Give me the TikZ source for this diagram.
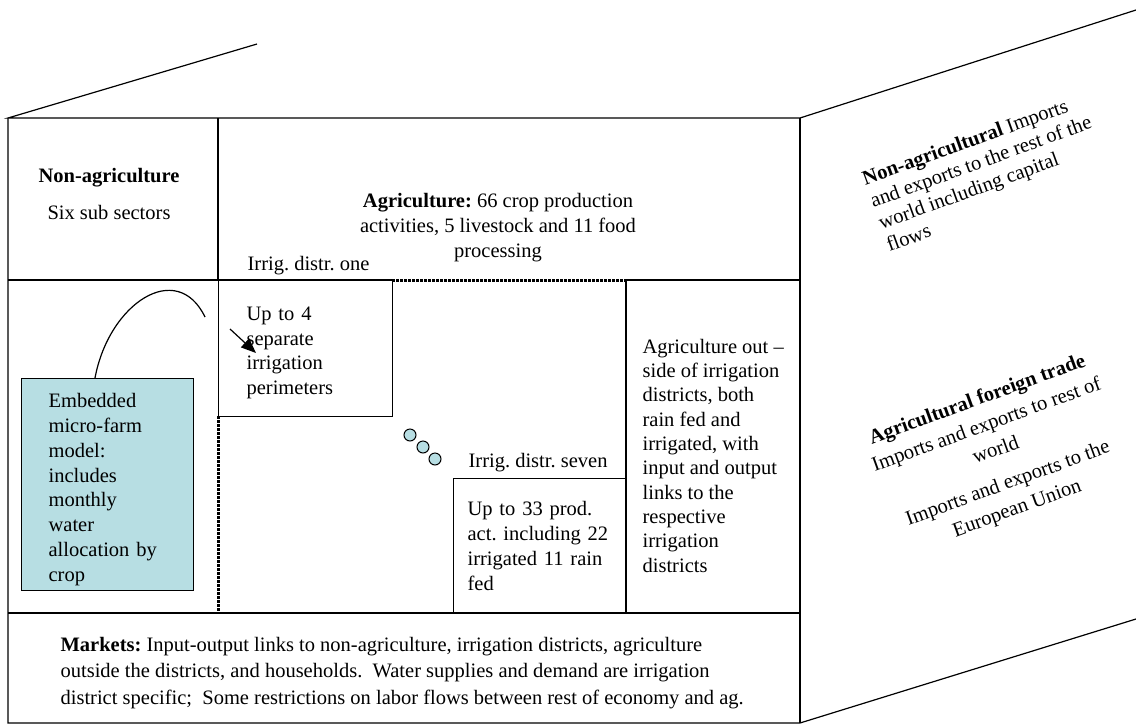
\documentclass[tikz,border=0pt]{standalone}
\usepackage{fontspec}
\setmainfont{Liberation Serif}
\usetikzlibrary{arrows.meta}
\definecolor{farmblue}{RGB}{183,222,227}

\begin{document}
\frenchspacing
\begin{tikzpicture}[x=1pt,y=-1pt,line width=1.2pt,
   every node/.style={font=\fontsize{20.5}{24.8}\selectfont,inner sep=0pt},
   box/.style={draw,align=left,anchor=north west},
   dotline/.style={line width=3pt,dash pattern=on 3pt off 1pt},
   ball/.style={draw,circle,fill=farmblue,line width=1pt,minimum size=12pt}]
\useasboundingbox (0,0) rectangle (1136,724);
% outer frame
\draw (257,44) -- (8,118) -- (800,118) -- (1136,10);
\draw (8,118) -- (8,723) -- (800,723) -- (1136,619);
\draw (800,118) -- (800,723);
% inner partitions
\draw (218,118) -- (218,280);
\draw (8,280) -- (392,280) (626,280) -- (800,280);
\draw (626,280) -- (626,613);
\draw (8,613) -- (800,613);
\draw[dotline] (392,280) -- (626,280);
\draw[dotline] (218,416) -- (218,613);
% boxes
\node[box,minimum width=174pt,minimum height=136pt,text width=118pt,text height=22pt] (one) at (218,280)
   {Up to 4\\separate\\irrigation\\perimeters};
\node[box,minimum width=173pt,minimum height=135pt,text width=145pt] (seven) at (453,478)
   {Up to 33 prod.\\act. including 22\\irrigated 11 rain\\fed};
\node[box,fill=farmblue,minimum width=172pt,minimum height=212pt,text width=118pt,text height=24pt] (farm) at (21,378)
   {Embedded\\micro-farm\\model:\\includes\\monthly\\water\\allocation by\\crop};
\node[anchor=base west] (onelbl) at (247,270) {Irrig. distr. one};
\node[anchor=base west] (sevenlbl) at (468,467) {Irrig. distr. seven};
% sector texts (base = last line)
\node[anchor=base,align=center] (nonag) at (109,219) {\textbf{Non-agriculture}\\[11.5pt]Six sub sectors};
\node[anchor=base,align=center] (ag) at (498,257)
   {\textbf{Agriculture:} 66 crop production\\activities, 5 livestock and 11 food\\processing};
\node[anchor=base west,align=left,font=\fontsize{20.5}{24.3}\selectfont] (outside) at (642,572)
   {Agriculture out --\\side of irrigation\\districts, both\\rain fed and\\irrigated, with\\input and output\\links to the\\respective\\irrigation\\districts};
\node[anchor=base west,align=left] (markets) at (60,704)
   {\textbf{Markets:} Input-output links to non-agriculture, irrigation districts, agriculture\\[1.5pt]
    outside the districts, and households.~ Water supplies and demand are irrigation\\[1.5pt]
    district specific;~ Some restrictions on labor flows between rest of economy and ag.};
% foreign trade
\node[anchor=base west,align=left,rotate=20,font=\fontsize{20.5}{23.5}\selectfont] (nonagtrade) at (889,252)
   {\textbf{Non-agricultural} Imports\\and exports to the rest of the\\world including capital\\flows};
\node[anchor=base,align=center,rotate=20,font=\fontsize{20.5}{27}\selectfont] (agtrade) at (1019,514)
   {\textbf{Agricultural foreign trade}\\Imports and exports to rest of\\world\\[8pt]Imports and exports to the\\European Union};
% link from micro-farm model
\coordinate (bend) at (205,317);
\coordinate (arrfrom) at (230,329);
\coordinate (arrto) at (256,353);
\draw ([xshift=74pt]farm.north west) .. controls +(14,-75) and +(-28,-58) .. (bend);
\draw[-{Triangle[length=15pt,width=12pt]}] (arrfrom) -- (arrto);
\foreach \i/\x/\y in {1/410/435,2/423/447,3/435/459}
   \node[ball] (ball\i) at (\x,\y) {};
\end{tikzpicture}
\end{document}
